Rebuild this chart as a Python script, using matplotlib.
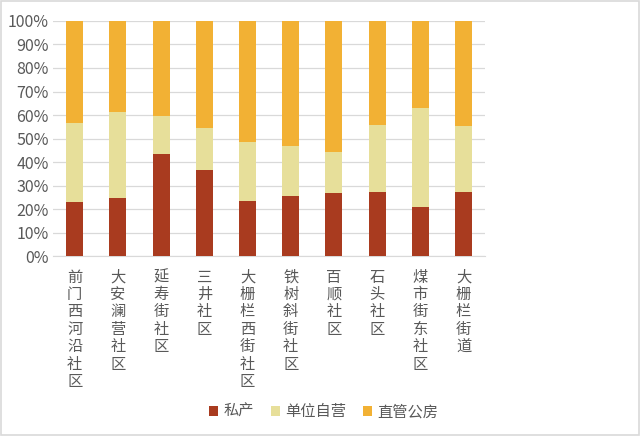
import numpy as np
import matplotlib.pyplot as plt
from matplotlib.patches import Rectangle

plt.rcParams["font.family"] = ["Noto Sans CJK SC", "DejaVu Sans"]

communities = ["前门西河沿社区", "大安澜营社区", "延寿街社区", "三井社区", "大栅栏西街社区",
               "铁树斜街社区", "百顺社区", "石头社区", "煤市街东社区", "大栅栏街道"]
private = [23.1, 24.5, 43.3, 36.7, 23.3, 25.5, 26.7, 27.4, 20.9, 27.4]
unit_run = [33.4, 36.6, 16.1, 17.9, 25.2, 21.4, 17.6, 28.3, 42.1, 27.9]
public = [43.5, 38.9, 40.6, 45.4, 51.5, 53.1, 55.7, 44.3, 37.0, 44.7]
series_names = ["私产", "单位自营", "直管公房"]

colors = ["#A93B1F", "#E7DF9A", "#F2B134"]
gray = "#595959"

fig = plt.figure(figsize=(6.4, 4.37), dpi=100)
ax = fig.add_axes([0.083, 0.414, 0.675, 0.538])

x = np.arange(len(communities))
w = 0.39
b1 = ax.bar(x, private, w, color=colors[0], zorder=3, label=series_names[0])
b2 = ax.bar(x, unit_run, w, bottom=private, color=colors[1], zorder=3, label=series_names[1])
bottom2 = np.array(private) + np.array(unit_run)
b3 = ax.bar(x, public, w, bottom=bottom2, color=colors[2], zorder=3, label=series_names[2])

ax.set_xlim(-0.5, 9.5)
ax.set_ylim(0, 100)
ax.set_yticks(np.arange(0, 101, 10))
ax.set_yticklabels(["%d%%" % v for v in range(0, 101, 10)], color=gray, fontsize=11.5)
ax.yaxis.grid(True, color="#D9D9D9", linewidth=0.9, zorder=0)
for s in ["top", "right", "left"]:
    ax.spines[s].set_visible(False)
ax.spines["bottom"].set_color("#D9D9D9")
ax.tick_params(axis="both", length=0, pad=3)

ax.set_xticks(x)
ax.set_xticklabels(["\n".join(c) for c in communities], color=gray, fontsize=11,
                   linespacing=1.03, va="top")
ax.tick_params(axis="x", pad=9)

fig.legend(handles=[b1, b2, b3], labels=series_names, loc="center", bbox_to_anchor=(0.506, 0.058),
           ncol=3, frameon=False, fontsize=11, handlelength=0.6, handleheight=0.6,
           handletextpad=0.35, columnspacing=1.1, labelcolor=gray)

fig.patches.append(Rectangle((0.002, 0.004), 0.996, 0.993, transform=fig.transFigure,
                             fill=False, edgecolor="#D9D9D9", linewidth=1.2))

plt.savefig("out.png", dpi=100)
plt.close()
